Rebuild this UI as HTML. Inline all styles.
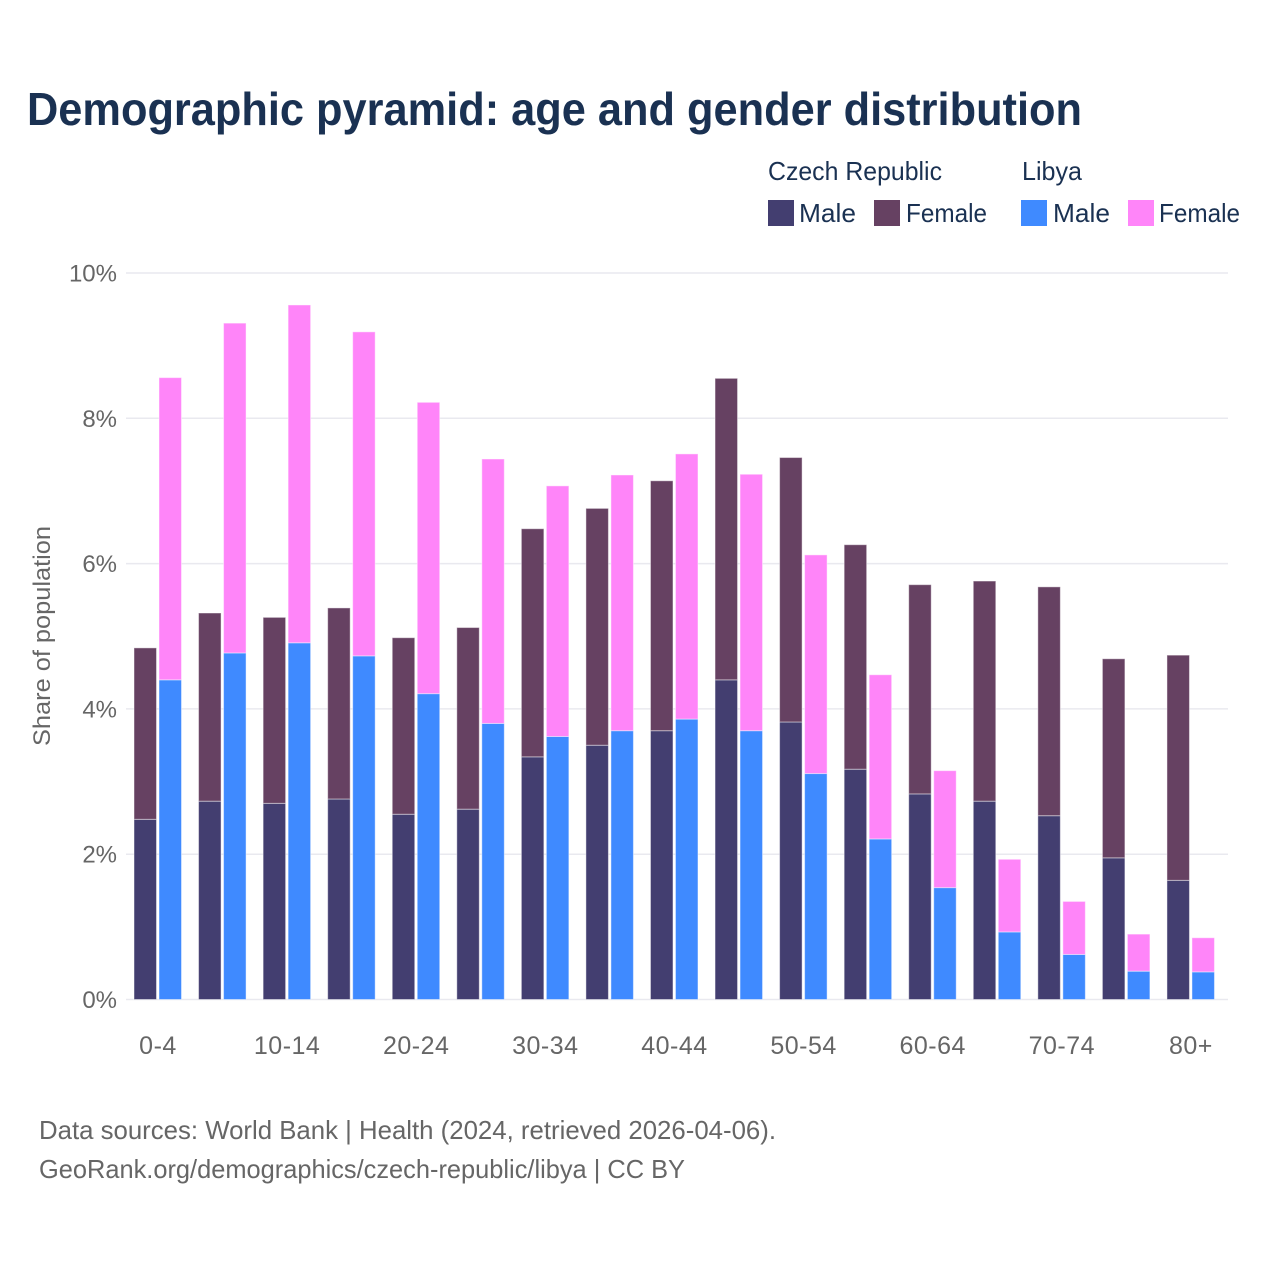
<!DOCTYPE html>
<html lang="en">
<head>
<meta charset="utf-8">
<title>Demographic pyramid: age and gender distribution</title>
<style>
html,body{margin:0;padding:0;background:#fff;width:1280px;height:1280px;overflow:hidden}
svg{display:block;font-family:"Liberation Sans",sans-serif}
</style>
</head>
<body>
<svg id="chart" width="1280" height="1280" viewBox="0 0 1280 1280" xmlns="http://www.w3.org/2000/svg">
<rect x="0" y="0" width="1280" height="1280" fill="#fff"/>
<text x="27" y="125" font-size="46" font-weight="700" fill="#1a3152" textLength="1055" lengthAdjust="spacingAndGlyphs">Demographic pyramid: age and gender distribution</text>
<g id="legend" font-size="26" fill="#1a3152">
<text x="768" y="180" textLength="174" lengthAdjust="spacingAndGlyphs">Czech Republic</text>
<text x="1022" y="180" textLength="60" lengthAdjust="spacingAndGlyphs">Libya</text>
<rect x="768" y="200" width="26" height="26" fill="#433e70"/>
<text x="799" y="222" textLength="57" lengthAdjust="spacingAndGlyphs">Male</text>
<rect x="874" y="200" width="26" height="26" fill="#664162"/>
<text x="906" y="222" textLength="81" lengthAdjust="spacingAndGlyphs">Female</text>
<rect x="1021" y="200" width="26" height="26" fill="#3f8aff"/>
<text x="1053" y="222" textLength="57" lengthAdjust="spacingAndGlyphs">Male</text>
<rect x="1128" y="200" width="26" height="26" fill="#ff85f9"/>
<text x="1159" y="222" textLength="81" lengthAdjust="spacingAndGlyphs">Female</text>
</g>
<g id="grid"></g>
<g id="y-ticks"></g>
<g id="bars"></g>
<g id="x-ticks"></g>
<text transform="translate(50,636) rotate(-90)" text-anchor="middle" font-size="24" fill="#666" textLength="220" lengthAdjust="spacingAndGlyphs">Share of population</text>
<text x="39" y="1139" font-size="26" fill="#666" textLength="737" lengthAdjust="spacingAndGlyphs">Data sources: World Bank | Health (2024, retrieved 2026-04-06).</text>
<text x="39" y="1178" font-size="26" fill="#666" textLength="646" lengthAdjust="spacingAndGlyphs">GeoRank.org/demographics/czech-republic/libya | CC BY</text>
</svg>
<script>
const categories = ["0-4","5-9","10-14","15-19","20-24","25-29","30-34","35-39","40-44","45-49","50-54","55-59","60-64","65-69","70-74","75-79","80+"];
const xTickLabels = ["0-4","10-14","20-24","30-34","40-44","50-54","60-64","70-74","80+"];
const yTickValues = [0,2,4,6,8,10];
const czechMale = [2.48,2.73,2.70,2.76,2.55,2.62,3.34,3.50,3.70,4.40,3.82,3.17,2.83,2.73,2.53,1.95,1.64];
const czechFemale = [2.36,2.59,2.56,2.63,2.43,2.50,3.14,3.26,3.44,4.15,3.64,3.09,2.88,3.03,3.15,2.74,3.10];
const libyaMale = [4.40,4.77,4.91,4.73,4.21,3.80,3.62,3.70,3.86,3.70,3.11,2.21,1.54,0.93,0.62,0.39,0.38];
const libyaFemale = [4.16,4.54,4.65,4.46,4.01,3.64,3.45,3.52,3.65,3.53,3.01,2.26,1.61,1.00,0.73,0.51,0.47];

const NS = "http://www.w3.org/2000/svg";
function yScale(v){ return 999.5 - v * 72.65; }
function xCenter(i){ return 158 + i * 64.56; }
function make(tag, attrs, parent){
  const el = document.createElementNS(NS, tag);
  for (const k in attrs) el.setAttribute(k, attrs[k]);
  parent.appendChild(el);
  return el;
}
const gridG = document.getElementById("grid");
const yG = document.getElementById("y-ticks");
const barsG = document.getElementById("bars");
const xG = document.getElementById("x-ticks");

yTickValues.forEach(function(v){
  const line = make("line", {x1:126, x2:1228, y1:yScale(v), y2:yScale(v), stroke: "#e9e9ef", "stroke-width":1.5}, gridG);
  
  
  const t = make("text", {x:117, y:yScale(v)+8.5, "text-anchor":"end", "font-size":24, fill:"#666"}, yG);
  
  
  t.textContent = v + "%";
});

function drawBar(x, v0, v1, color, parent){
  const r = make("rect", {x:x, y:yScale(v1), width:22.5, height:yScale(v0)-yScale(v1), fill:color, stroke:"#fff", "stroke-opacity":0.45, "stroke-width":1}, parent);
  return r;
}
categories.forEach(function(cat, i){
  const c = xCenter(i);
  const g = make("g", {}, barsG);
  
  
  const a = drawBar(c-24, 0, czechMale[i], "#433e70", g);
  
  
  const b = drawBar(c-24, czechMale[i], czechMale[i]+czechFemale[i], "#664162", g);
  
  
  const d = drawBar(c+1, 0, libyaMale[i], "#3f8aff", g);
  
  
  const e = drawBar(c+1, libyaMale[i], libyaMale[i]+libyaFemale[i], "#ff85f9", g);
  
  
});

xTickLabels.forEach(function(label){
  const i = categories.indexOf(label);
  const t = make("text", {x:xCenter(i), y:1054, "text-anchor":"middle", "font-size":25, "letter-spacing":0.5, fill:"#666"}, xG);
  
  
  t.textContent = label;
});
</script>
</body>
</html>
